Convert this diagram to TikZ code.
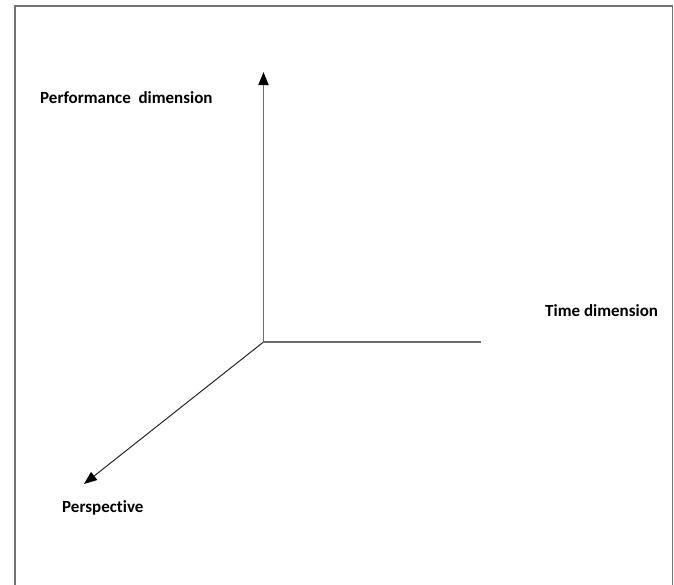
\documentclass[tikz,border=0pt]{standalone}
\usepackage{fontspec}
\setmainfont{Carlito}[Ligatures=NoCommon]
\usetikzlibrary{arrows.meta}
\tikzset{
  axislabel/.style={anchor=west, inner sep=0pt, font=\fontsize{17}{20}\selectfont\bfseries, text=black},
  grayaxis/.style={draw=black!58, line width=1.8pt},
  darkaxis/.style={draw=black!85, line width=1pt},
  tip/.style={-{Triangle[length=13pt,width=10pt,color=black]}},
  frame/.style={draw=black!55, line width=1.8pt}
}
\begin{document}
\begin{tikzpicture}[x=1pt,y=-1pt]
\useasboundingbox (0,0) rectangle (674,584);
\clip (0,0) rectangle (674,584);
\draw[frame] (15,6) rectangle (672.5,600);
\coordinate (o) at (263.5,342);
\coordinate (up) at (263.5,72);
\coordinate (right) at (480.5,342);
\coordinate (dl) at (84,484);
\node[axislabel] (perf) at (40,98) {Performance\ \ dimension};
\node[axislabel] (time) at (545,311) {Time dimension};
\node[axislabel] (persp) at (62,508) {Perspective};
\draw[grayaxis] (o) -- (right);
\draw[grayaxis, tip] (o) -- (up);
\draw[darkaxis, tip] (o) -- (dl);
\end{tikzpicture}
\end{document}
